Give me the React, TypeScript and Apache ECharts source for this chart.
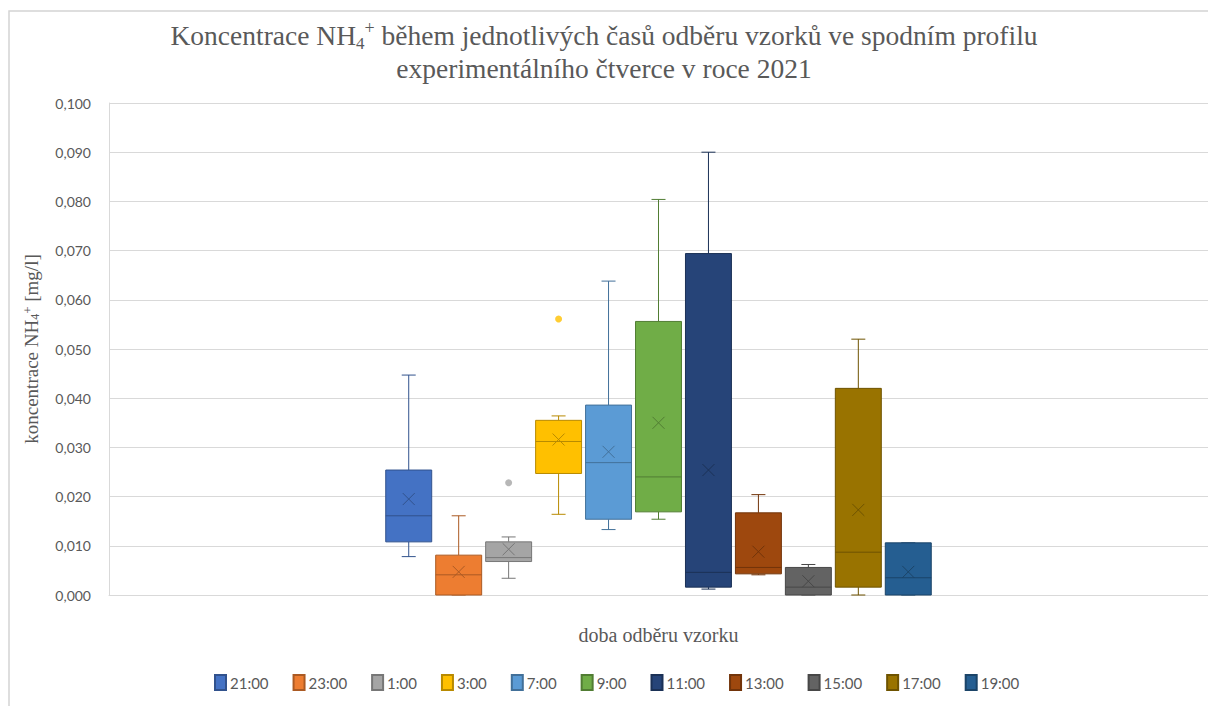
import React, { useEffect, useRef } from "react";
import * as echarts from "echarts";

const times = ["21:00", "23:00", "1:00", "3:00", "7:00", "9:00", "11:00", "13:00", "15:00", "17:00", "19:00"];
const mins = [0.0078, 0.0, 0.0034, 0.0164, 0.0133, 0.0154, 0.0012, 0.0041, 0.0, 0.0, 0.0];
const q1s = [0.0108, 0.0, 0.0068, 0.0247, 0.0154, 0.0169, 0.0016, 0.0043, 0.0, 0.0016, 0.0];
const medians = [0.0161, 0.0041, 0.0076, 0.0312, 0.0269, 0.024, 0.0046, 0.0056, 0.0016, 0.0087, 0.0035];
const q3s = [0.0254, 0.0081, 0.0108, 0.0355, 0.0386, 0.0556, 0.0694, 0.0167, 0.0056, 0.042, 0.0106];
const maxs = [0.0447, 0.0161, 0.0118, 0.0364, 0.0638, 0.0804, 0.09, 0.0204, 0.0062, 0.052, 0.0106];
const means = [0.0195, 0.0047, 0.0093, 0.0316, 0.0291, 0.035, 0.0254, 0.0088, 0.0028, 0.0173, 0.0047];
const outlierTimes = ["1:00", "3:00"];
const outlierValues = [0.0228, 0.0561];
const yTicks = [0, 0.01, 0.02, 0.03, 0.04, 0.05, 0.06, 0.07, 0.08, 0.09, 0.1];

const colors = ["#4472C4", "#ED7D31", "#A5A5A5", "#FFC000", "#5B9BD5", "#70AD47", "#264478", "#9E480E", "#636363", "#997300", "#255E91"];

function darker(hex: string, f: number) {
  const n = parseInt(hex.slice(1), 16);
  const r = Math.round(((n >> 16) & 255) * f);
  const g = Math.round(((n >> 8) & 255) * f);
  const b = Math.round((n & 255) * f);
  return "rgb(" + r + "," + g + "," + b + ")";
}

const OFFSET = 6; // first box position on the hidden x value axis
const SERIF = "'Liberation Serif', 'Times New Roman', serif";
const SANS = "Lato, 'Open Sans', sans-serif";
const GREY = "#595959";

export default function App() {
  const ref = useRef<HTMLDivElement>(null);
  useEffect(() => {
    if (!ref.current) return;
    const chart = echarts.init(ref.current, null, { renderer: "svg" });

    const boxSeries = times.map((t, i) => {
      const c = colors[i];
      const dk = darker(c, 0.72);
      return {
        name: t,
        type: "custom",
        itemStyle: { color: c, borderColor: dk, borderWidth: 1 },
        encode: { x: 0, y: [1, 2, 3, 4, 5] },
        data: [[i + OFFSET, mins[i], q1s[i], medians[i], q3s[i], maxs[i], means[i]]],
        renderItem: (params: any, api: any) => {
          const xv = api.value(0);
          const x = api.coord([xv, 0])[0];
          const yy = (k: number) => api.coord([xv, api.value(k)])[1];
          const w = api.size([1, 0])[0] * 0.92;
          const half = w / 2;
          const cap = 7;
          const yMin = yy(1), yQ1 = yy(2), yMed = yy(3), yQ3 = yy(4), yMax = yy(5), yMean = yy(6);
          const ls = { stroke: dk, lineWidth: 1 };
          const m = 6;
          return {
            type: "group",
            children: [
              { type: "line", shape: { x1: x, y1: yQ3, x2: x, y2: yMax }, style: ls },
              { type: "line", shape: { x1: x, y1: yQ1, x2: x, y2: yMin }, style: ls },
              { type: "line", shape: { x1: x - cap, y1: yMax, x2: x + cap, y2: yMax }, style: ls },
              { type: "line", shape: { x1: x - cap, y1: yMin, x2: x + cap, y2: yMin }, style: ls },
              { type: "rect", shape: { x: x - half, y: yQ3, width: w, height: yQ1 - yQ3 }, style: { fill: c, stroke: dk, lineWidth: 1 } },
              { type: "line", shape: { x1: x - half, y1: yMed, x2: x + half, y2: yMed }, style: ls },
              { type: "line", shape: { x1: x - m, y1: yMean - m, x2: x + m, y2: yMean + m }, style: ls },
              { type: "line", shape: { x1: x - m, y1: yMean + m, x2: x + m, y2: yMean - m }, style: ls },
            ],
          };
        },
        z: 3,
      };
    });

    const option: any = {
      animation: false,
      backgroundColor: "#ffffff",
      title: {
        left: "center",
        top: 14,
        text: "Koncentrace NH{sub|4}{sup|+} během jednotlivých časů odběru vzorků ve spodním profilu\nexperimentálního čtverce v roce 2021",
        textStyle: {
          fontFamily: SERIF,
          fontSize: 27.5,
          fontWeight: "normal",
          color: GREY,
          lineHeight: 33,
          rich: {
            sub: { fontFamily: SERIF, fontSize: 17, color: GREY, verticalAlign: "bottom", lineHeight: 26 },
            sup: { fontFamily: SERIF, fontSize: 18, color: GREY, verticalAlign: "top", lineHeight: 26 },
          },
        },
      },
      graphic: [
        {
          type: "polyline",
          shape: { points: [[9, 720], [9, 11], [1220, 11]] },
          style: { fill: "none", stroke: "#d4d4d4", lineWidth: 1.5 },
          silent: true,
          z: -1,
        },
      ],
      legend: {
        data: times,
        left: 209,
        top: 669,
        icon: "rect",
        itemWidth: 11,
        itemHeight: 15,
        itemGap: 24,
        textStyle: { fontFamily: SANS, fontSize: 15, color: GREY, padding: [0, 0, 0, -1] },
      },
      grid: { left: 109, right: 0, top: 103, bottom: 111, containLabel: false },
      xAxis: {
        type: "value",
        min: 0,
        max: 22,
        name: "doba odběru vzorku",
        nameLocation: "middle",
        nameGap: 30,
        nameTextStyle: { fontFamily: SERIF, fontSize: 20, color: GREY },
        axisLine: { show: true, lineStyle: { color: "#d9d9d9", width: 1 } },
        axisTick: { show: false },
        axisLabel: { show: false },
        splitLine: { show: false },
      },
      yAxis: {
        type: "value",
        min: yTicks[0],
        max: yTicks[yTicks.length - 1],
        interval: 0.01,
        name: "koncentrace NH{sub|4}{sup|+} [mg/l]",
        nameLocation: "middle",
        nameRotate: 90,
        nameGap: 68,
        nameTextStyle: {
          fontFamily: SERIF,
          fontSize: 19,
          color: GREY,
          rich: {
            sub: { fontFamily: SERIF, fontSize: 12, color: GREY, verticalAlign: "bottom", lineHeight: 20 },
            sup: { fontFamily: SERIF, fontSize: 13, color: GREY, verticalAlign: "top", lineHeight: 20 },
          },
        },
        axisLine: { show: true, lineStyle: { color: "#d9d9d9", width: 1 } },
        axisTick: { show: false },
        axisLabel: {
          fontFamily: SANS,
          fontSize: 14,
          color: GREY,
          margin: 18,
          formatter: (v: number) => v.toFixed(3).replace(".", ","),
        },
        splitLine: { show: true, lineStyle: { color: "#d9d9d9", width: 1 } },
      },
      series: [
        ...boxSeries,
        {
          name: "outliers",
          type: "scatter",
          symbol: "circle",
          symbolSize: 7,
          z: 4,
          data: outlierTimes.map((t, k) => {
            const i = times.indexOf(t);
            return { value: [i + OFFSET, outlierValues[k]], itemStyle: { color: colors[i] } };
          }),
        },
      ],
    };
    chart.setOption(option);
    return () => chart.dispose();
  }, []);
  return (
    <div
      ref={ref}
      style={{ position: "fixed", left: 0, top: 0, width: 1208, height: 706 }}
    />
  );
}
